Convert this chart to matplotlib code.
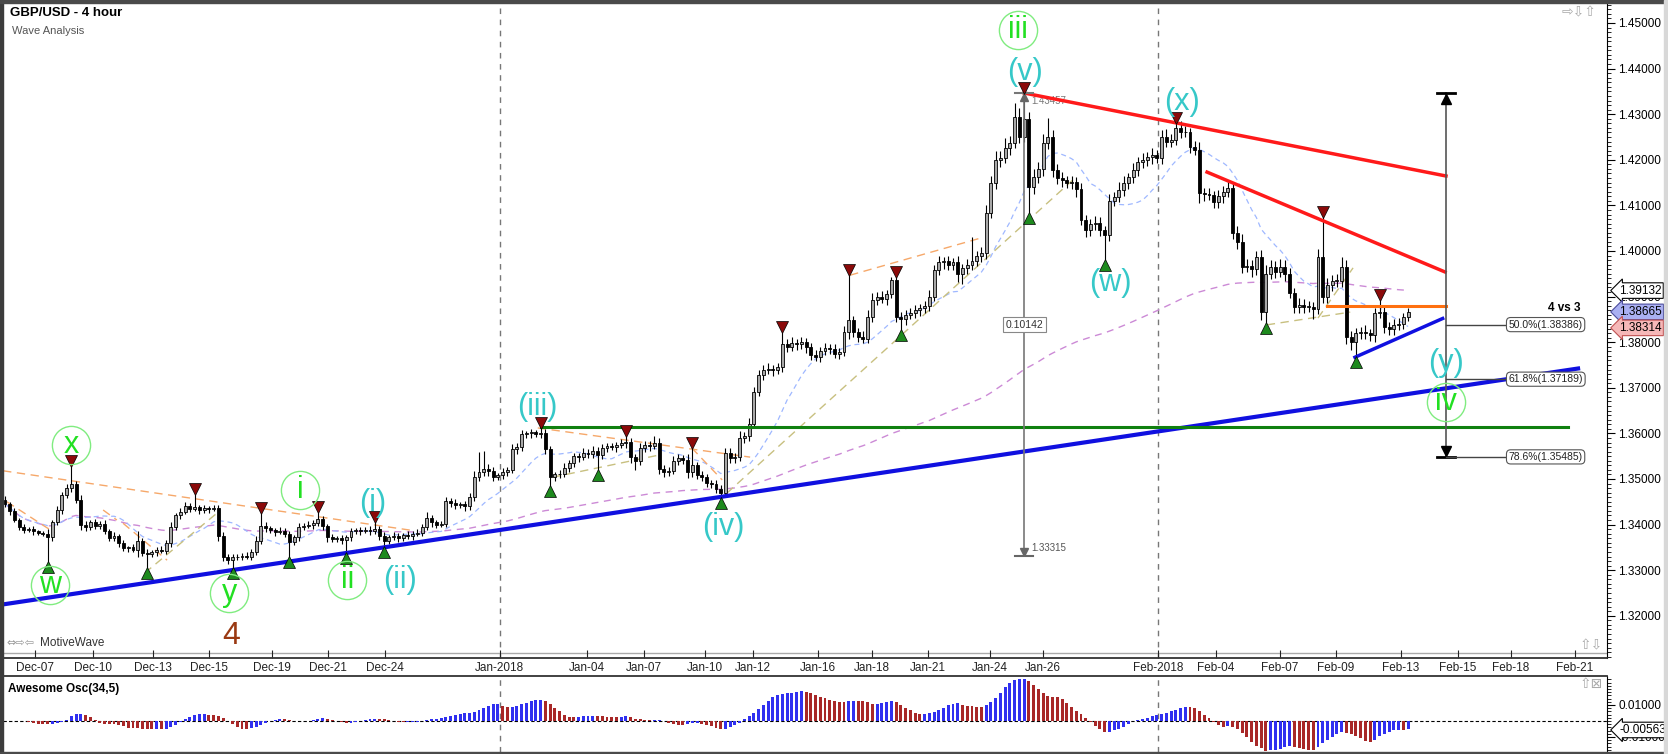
import numpy as np
import pandas as pd
import matplotlib
matplotlib.use('Agg')
from matplotlib import pyplot as plt
from matplotlib import transforms
from matplotlib.patches import Rectangle
from matplotlib.ticker import FormatStrFormatter

plt.rcParams['font.family'] = ['Liberation Sans', 'DejaVu Sans']

W, H = 1668, 754

# 4h closes, pips above 1.3000
close_pips = [
    445, 430, 410, 395, 388, 390, 385, 382, 380, 372, 405, 432, 465, 480, 490, 455, 400, 395, 405, 398,
    402, 385, 370, 375, 360, 348, 350, 345, 365, 338, 335, 340, 345, 342, 360, 395, 420, 428, 440, 435,
    438, 432, 436, 435, 437, 375, 330, 322, 328, 330, 332, 330, 340, 365, 398, 392, 388, 384, 386, 380,
    362, 372, 395, 398, 400, 404, 412, 396, 372, 368, 370, 366, 372, 385, 388, 386, 388, 385, 390, 376,
    365, 372, 375, 370, 378, 375, 380, 382, 395, 415, 405, 400, 402, 452, 448, 442, 445, 440, 460, 505,
    515, 522, 518, 505, 508, 515, 520, 565, 570, 598, 600, 602, 598, 600, 565, 505, 510, 512, 525, 535,
    550, 548, 558, 555, 562, 552, 568, 572, 570, 575, 578, 582, 548, 540, 568, 575, 572, 580, 522, 515,
    518, 540, 545, 542, 515, 530, 508, 505, 492, 488, 478, 470, 557, 545, 548, 590, 595, 620, 690, 728,
    740, 742, 738, 745, 795, 790, 798, 795, 800, 790, 772, 768, 780, 788, 785, 775, 778, 822, 848, 822,
    812, 808, 855, 893, 900, 895, 905, 936, 855, 850, 860, 865, 870, 875, 880, 900, 958, 975, 977, 970,
    975, 950, 962, 970, 978, 990, 995, 1083, 1149, 1200, 1205, 1225, 1237, 1294, 1250, 1290, 1140, 1162, 1180, 1237,
    1250, 1178, 1160, 1155, 1150, 1152, 1135, 1068, 1046, 1060, 1062, 1045, 1035, 1110, 1118, 1134, 1150, 1162, 1178, 1195,
    1200, 1206, 1210, 1205, 1250, 1240, 1244, 1270, 1262, 1260, 1228, 1222, 1127, 1124, 1122, 1107, 1120, 1130, 1138, 1039,
    1020, 965, 968, 960, 987, 866, 950, 965, 955, 965, 950, 908, 878, 882, 878, 878, 873, 987, 900, 925,
    935, 935, 965, 811, 800, 820, 823, 820, 815, 864, 867, 834, 828, 838, 840, 855, 866,
]
# wick lengths above / below the body, pips
wick_up = [
    8, 5, 6, 4, 7, 5, 6, 4, 5, 10, 6, 8, 7, 9, 39, 6, 10, 7, 6, 8,
    5, 7, 6, 8, 5, 6, 4, 7, 20, 6, 9, 5, 6, 8, 7, 10, 6, 8, 9, 7,
    30, 6, 8, 5, 7, 6, 9, 5, 7, 6, 5, 8, 6, 9, 27, 7, 6, 5, 8, 6,
    7, 6, 9, 5, 8, 6, 16, 7, 6, 8, 5, 7, 6, 8, 5, 7, 6, 8, 15, 6,
    7, 5, 8, 6, 4, 7, 5, 8, 6, 12, 7, 5, 6, 9, 6, 8, 5, 7, 10, 12,
    45, 40, 10, 8, 6, 9, 7, 12, 8, 10, 6, 8, 5, 12, 9, 7, 6, 8, 10, 7,
    8, 6, 9, 7, 10, 8, 9, 6, 8, 7, 10, 13, 8, 7, 12, 9, 8, 14, 10, 9,
    8, 10, 9, 7, 12, 38, 8, 10, 7, 6, 9, 8, 12, 10, 8, 15, 9, 14, 12, 10,
    9, 12, 8, 10, 27, 11, 14, 9, 12, 10, 8, 11, 9, 10, 8, 12, 9, 14, 99, 10,
    9, 12, 15, 14, 10, 12, 9, 7, 7, 12, 10, 9, 12, 8, 11, 14, 12, 15, 10, 12,
    10, 14, 9, 12, 53, 11, 14, 18, 15, 20, 14, 22, 16, 30, 20, 56, 14, 18, 15, 20,
    42, 15, 12, 14, 10, 13, 11, 15, 12, 10, 14, 12, 10, 16, 12, 18, 14, 10, 15, 12,
    14, 11, 16, 12, 15, 18, 12, 11, 14, 12, 10, 13, 16, 12, 14, 10, 13, 12, 15, 14,
    16, 18, 15, 12, 14, 15, 20, 16, 14, 18, 15, 12, 10, 14, 12, 13, 10, 17, 88, 15,
    12, 14, 22, 15, 13, 12, 11, 14, 10, 12, 25, 14, 11, 13, 12, 10, 8,
]
wick_dn = [
    6, 8, 5, 7, 6, 4, 8, 5, 6, 54, 7, 5, 8, 6, 9, 7, 12, 8, 6, 7,
    8, 6, 7, 5, 9, 6, 8, 5, 15, 7, 30, 6, 8, 5, 7, 9, 6, 8, 5, 7,
    6, 8, 7, 9, 5, 12, 10, 8, 17, 6, 7, 5, 8, 6, 7, 9, 6, 8, 5, 7,
    33, 6, 8, 7, 5, 9, 6, 8, 10, 7, 6, 8, 28, 7, 6, 8, 5, 7, 6, 9,
    15, 7, 6, 8, 5, 7, 9, 6, 8, 7, 10, 8, 6, 7, 9, 8, 6, 10, 7, 8,
    9, 8, 12, 10, 7, 9, 8, 6, 10, 8, 7, 9, 6, 8, 10, 20, 9, 8, 7, 9,
    8, 10, 7, 9, 8, 32, 9, 8, 7, 10, 8, 9, 12, 20, 9, 8, 10, 7, 12, 10,
    9, 8, 10, 9, 12, 10, 8, 9, 10, 8, 9, 12, 8, 10, 9, 8, 10, 12, 9, 8,
    10, 9, 12, 8, 10, 11, 9, 12, 10, 14, 11, 10, 12, 9, 11, 10, 12, 9, 14, 11,
    12, 10, 9, 11, 12, 10, 13, 9, 11, 23, 12, 10, 11, 13, 10, 12, 9, 11, 14, 12,
    11, 18, 22, 13, 12, 10, 14, 12, 11, 13, 15, 12, 14, 11, 13, 12, 57, 14, 12, 16,
    13, 15, 12, 14, 11, 13, 16, 12, 15, 14, 13, 12, 55, 14, 12, 11, 13, 15, 12, 14,
    12, 13, 15, 11, 14, 12, 13, 12, 14, 11, 13, 12, 22, 14, 11, 13, 12, 14, 11, 13,
    15, 14, 12, 16, 13, 18, 24, 12, 14, 13, 15, 12, 14, 13, 15, 12, 23, 12, 14, 13,
    12, 14, 13, 16, 18, 33, 12, 14, 13, 15, 12, 14, 13, 12, 11, 10, 9,
]
open_first = 455

date_ticks = [6.3, 18.6, 31.2, 43.0, 56.3, 68.1, 80.2, 104.4, 122.8, 134.8, 147.7, 157.8, 171.5,
              182.9, 194.7, 207.8, 219.0, 243.2, 255.5, 269.0, 280.8, 294.5, 306.5, 317.7, 331.2]
date_labels = ['Dec-07', 'Dec-10', 'Dec-13', 'Dec-15', 'Dec-19', 'Dec-21', 'Dec-24', 'Jan-2018',
               'Jan-04', 'Jan-07', 'Jan-10', 'Jan-12', 'Jan-16', 'Jan-18', 'Jan-21', 'Jan-24',
               'Jan-26', 'Feb-2018', 'Feb-04', 'Feb-07', 'Feb-09', 'Feb-13', 'Feb-15', 'Feb-18', 'Feb-21']
month_lines = [104.4, 243.2]

peak_bars = [14, 40, 54, 66, 78, 113, 131, 145, 164, 178, 188, 215, 247, 278, 290]
trough_bars = [9, 30, 48, 60, 72, 80, 115, 125, 151, 189, 216, 232, 266, 285]

green_waves = [('w', 9.5, 1.3268), ('x', 13.9, 1.3575), ('y', 47.3, 1.3250), ('i', 62.2, 1.3476),
               ('ii', 72.2, 1.3279), ('iii', 213.7, 1.4485), ('iv', 304.0, 1.3669)]
cyan_waves = [('(i)', 77.6, 1.3447), ('(ii)', 83.3, 1.3279), ('(iii)', 112.4, 1.3658),
              ('(iv)', 151.5, 1.3395), ('(v)', 215.2, 1.4393), ('(w)', 233.1, 1.3930),
              ('(x)', 248.3, 1.4327), ('(y)', 304.0, 1.3754)]

blue_line = ([-1.05, 332.3], [1.3224, 1.3743])
blue_short = ([284.8, 303.3], [1.3767, 1.3852])
red_upper = ([215.0, 304.0], [1.43465, 1.41645])
red_lower = ([253.6, 303.8], [1.4173, 1.3954])
green_level = ([113.0, 329.7], [1.3614, 1.3614])
orange_level = ([278.9, 304.0], [1.3879, 1.3879])

orange_dashed = [([-0.4, 85.4], [1.3518, 1.3388]), ([112.4, 157.2], [1.3612, 1.3548]),
                 ([178.3, 205.7], [1.3947, 1.4028]), ([0.4, 10.5], [1.3450, 1.3382]),
                 ([20.7, 23.6], [1.3432, 1.3410]), ([24.9, 34.2], [1.3403, 1.3322]),
                 ([144.9, 151.3], [1.3568, 1.3498])]
khaki_dashed = [([29.5, 44.7], [1.3294, 1.3425]), ([115.6, 138.2], [1.3504, 1.3553]),
                ([152.3, 225.3], [1.3469, 1.4156]), ([266.2, 283.8], [1.3838, 1.3866]),
                ([277.0, 284.4], [1.3853, 1.3963])]

wave_top, wave_bottom = 1.43457, 1.33315
fib_levels = [('50.0%(1.38386)', 1.38386), ('61.8%(1.37189)', 1.37189), ('78.6%(1.35485)', 1.35485)]
fib_bar = 304.0

price_boxes = [('1.39132', 1.39132, 'white', 'black'),
               ('1.38665', 1.38665, '#aab0f2', '#4a4a9a'),
               ('1.38314', 1.38314, '#f6b8b8', '#c05050')]
ao_last = -0.00563

# ---- series
closes = 1.3 + np.array(close_pips) / 10000
opens = np.r_[1.3 + open_first / 10000, closes[:-1]]
highs = np.maximum(opens, closes) + np.array(wick_up) / 10000
lows = np.minimum(opens, closes) - np.array(wick_dn) / 10000
bars = np.arange(len(closes))
cs = pd.Series(closes)
ma_fast = cs.rolling(14, min_periods=1).mean()
ma_slow = cs.ewm(span=155).mean()
med = pd.Series((highs + lows) / 2)
ao = (med.rolling(5, min_periods=1).mean() - med.rolling(34, min_periods=1).mean()).values
ao_up = np.r_[True, np.diff(ao) > 0]


def fx(px):
    return px / W


def fy(py):
    return 1 - py / H


fig = plt.figure(figsize=(W / 100, H / 100), dpi=100, facecolor='white')

# ---- price panel
ax = fig.add_axes([fx(3), fy(658), fx(1607) - fx(3), fy(3) - fy(658)])
ax.set_xlim(-0.42, 337.97)
ax.set_ylim(1.45 - (658 - 23) / 4560, 1.45 + (23 - 3) / 4560)

ax.plot(bars, ma_slow, color='#cc8ad6', lw=1.0, dashes=(5, 4), zorder=2)
ax.plot(bars, ma_fast, color='#9fb8ff', lw=0.9, dashes=(4, 3), zorder=2)

for xs, ys in orange_dashed:
    ax.plot(xs, ys, color='#f6a86a', lw=1.0, dashes=(6, 4), zorder=2)
for xs, ys in khaki_dashed:
    ax.plot(xs, ys, color='#c8c080', lw=1.0, dashes=(6, 4), zorder=2)

up = closes >= opens
body = np.maximum(np.abs(closes - opens), 0.00008)
ax.vlines(bars, lows, highs, color='black', lw=0.8, zorder=3)
ax.bar(bars[up], body[up], bottom=opens[up], width=0.62, color='#a8a8a8',
       edgecolor='black', lw=0.6, zorder=4)
ax.bar(bars[~up], body[~up], bottom=closes[~up], width=0.62, color='black',
       edgecolor='black', lw=0.6, zorder=4)

ax.plot(peak_bars, highs[peak_bars] + 0.0011, 'v', ms=9, mfc='#8b0a0a', mec='black', mew=0.5, zorder=6)
ax.plot(trough_bars, lows[trough_bars] - 0.0011, '^', ms=9, mfc='#1e8a1e', mec='black', mew=0.5, zorder=6)

ax.plot(*blue_line, color='#1010e0', lw=3, zorder=5, solid_capstyle='butt')
ax.plot(*blue_short, color='#1010e0', lw=2.5, zorder=5)
ax.plot(*red_upper, color='#ff1a1a', lw=2.5, zorder=5)
ax.plot(*red_lower, color='#ff1a1a', lw=2.5, zorder=5)
ax.plot(*green_level, color='#108010', lw=2.2, zorder=5)
ax.plot(*orange_level, color='#ff7010', lw=2.2, zorder=5)

for b in month_lines:
    ax.axvline(b, color='#777777', lw=1, dashes=(4, 4), zorder=1)

# measured move from the (v) top
ax.plot([215, 215], [wave_top, wave_bottom], color='#777777', lw=1.2, zorder=5)
ax.plot([213.1, 216.9], [wave_top] * 2, color='#777777', lw=1.5, zorder=5)
ax.plot([213.1, 216.9], [wave_bottom] * 2, color='#666666', lw=1.5, zorder=5)
ax.plot([215], [wave_top - 0.0009], '^', ms=6, color='#666666', zorder=5)
ax.plot([215], [wave_bottom + 0.0009], 'v', ms=6, color='#666666', zorder=5)
ax.text(216.6, wave_top - 0.0017, '1.43457', fontsize=7, color='#777777', va='center', zorder=4)
ax.text(216.6, wave_bottom + 0.0018, '1.33315', fontsize=7, color='#555555', va='center', zorder=6)
ax.text(215, 1.3838, '%.5f' % (wave_top - wave_bottom), fontsize=7.5, color='#333333', ha='center',
        va='center', zorder=7, bbox=dict(boxstyle='square,pad=0.25', fc='white', ec='#888888', lw=0.8))

# fib retracement measure
ax.plot([fib_bar, fib_bar], [wave_top, fib_levels[-1][1]], color='#555555', lw=1.2, zorder=5)
ax.plot([fib_bar - 1.9, fib_bar + 1.9], [wave_top] * 2, color='black', lw=2, zorder=5)
ax.plot([fib_bar - 1.9, fib_bar + 1.9], [fib_levels[-1][1]] * 2, color='black', lw=2, zorder=5)
ax.plot([fib_bar], [wave_top - 0.0013], '^', ms=7, color='black', zorder=5)
ax.plot([fib_bar], [fib_levels[-1][1] + 0.0013], 'v', ms=7, color='black', zorder=5)
for txt, lev in fib_levels:
    ax.plot([fib_bar, 316.8], [lev, lev], color='#444444', lw=1, zorder=5)
    ax.text(317.2, lev, txt, fontsize=7.5, color='#222222', va='center', ha='left', zorder=7,
            bbox=dict(boxstyle='round,pad=0.2,rounding_size=0.4', fc='white', ec='#555555', lw=0.8))
ax.text(332.3, 1.3875, '4 vs 3', fontsize=8.5, weight='bold', ha='right', va='center', zorder=7)

# wave labels
for txt, b, p in green_waves:
    ax.plot([b], [p], 'o', ms=27.5, mfc='none', mec='#80ec80', mew=1.0, zorder=8)
    ax.text(b, p, txt, fontsize=22, color='#22e022', ha='center', va='center', zorder=8)
for txt, b, p in cyan_waves:
    ax.text(b, p, txt, fontsize=22, color='#36c8c8', ha='center', va='center', zorder=8)
ax.text(47.7, 1.3156, '4', fontsize=23, color='#9a3912', ha='center', va='center', zorder=8)

# axes styling
for s in ['left', 'top']:
    ax.spines[s].set_visible(False)
ax.spines['right'].set_linewidth(0.8)
ax.spines['bottom'].set_color('#333333')
ax.spines['bottom'].set_linewidth(1.3)
ax.axhline(1.45 - 630 / 4560, color='#aaaaaa', lw=1, zorder=1)
ax.yaxis.tick_right()
ax.set_yticks(np.round(np.arange(1.32, 1.4501, 0.01), 2))
ax.set_yticks(np.round(np.arange(1.311, 1.4541, 0.001), 3), minor=True)
ax.yaxis.set_major_formatter(FormatStrFormatter('%.5f'))
ax.tick_params(axis='y', which='major', length=6, width=0.8, labelsize=8.5, pad=2)
ax.tick_params(axis='y', which='minor', length=3, width=0.6)
ax.set_xticks(date_ticks)
ax.set_xticklabels(date_labels)
ax.tick_params(axis='x', direction='in', length=6, width=0.8, labelsize=8.5, pad=3, colors='#222222')

tr = transforms.blended_transform_factory(ax.transAxes, ax.transData)
for txt, p, fc, ec in price_boxes:
    ax.text(1 + 12 / 1604, p, txt, transform=tr, fontsize=8.5, va='center', ha='left', zorder=10,
            clip_on=False, bbox=dict(boxstyle='larrow,pad=0.15', fc=fc, ec=ec, lw=0.8))

# ---- oscillator panel
axo = fig.add_axes([fx(3), fy(752), fx(1607) - fx(3), fy(676) - fy(752)])
axo.set_xlim(ax.get_xlim())
axo.set_ylim(-0.0194, 0.0281)
axo.bar(bars, ao, width=0.62, color=np.where(ao_up, '#3030f0', '#a82828'), zorder=3)
axo.axhline(0, color='black', lw=0.8, dashes=(3, 2), zorder=2)
for b in month_lines:
    axo.axvline(b, color='#777777', lw=1, dashes=(4, 4), zorder=1)
for s in ['left', 'bottom']:
    axo.spines[s].set_visible(False)
axo.spines['top'].set_color('#333333')
axo.spines['top'].set_linewidth(1.3)
axo.spines['right'].set_linewidth(0.8)
axo.set_xticks([])
axo.yaxis.tick_right()
axo.set_yticks([0.01, -0.01])
axo.set_yticks(np.round(np.arange(-0.018, 0.028, 0.002), 3), minor=True)
axo.yaxis.set_major_formatter(FormatStrFormatter('%.5f'))
axo.tick_params(axis='y', which='major', length=6, width=0.8, labelsize=8.5, pad=2)
axo.tick_params(axis='y', which='minor', length=3, width=0.6)
tro = transforms.blended_transform_factory(axo.transAxes, axo.transData)
axo.text(1 + 12 / 1604, ao_last, '%.5f' % ao_last, transform=tro, fontsize=8.5, va='center',
         ha='left', zorder=10, clip_on=False,
         bbox=dict(boxstyle='larrow,pad=0.15', fc='white', ec='black', lw=0.8))

# ---- titles and frame decorations
fig.text(fx(10), fy(13), 'GBP/USD - 4 hour', fontsize=9.5, weight='bold', va='center')
fig.text(fx(12), fy(31), 'Wave Analysis', fontsize=8, color='#555555', va='center')
fig.text(fx(8), fy(689), 'Awesome Osc(34,5)', fontsize=8.5, weight='bold', va='center')
fig.text(fx(6), fy(643), '⇔⇨⇦', fontsize=8, color='#999999', va='center', family='DejaVu Sans')
fig.text(fx(40), fy(643), 'MotiveWave', fontsize=8.5, color='#333333', va='center')
fig.text(fx(1562), fy(12), '⇨⇩⇧', fontsize=10, color='#aaaaaa', va='center', family='DejaVu Sans')
fig.text(fx(1580), fy(645), '⇧⇩', fontsize=10, color='#aaaaaa', va='center', family='DejaVu Sans')
fig.text(fx(1580), fy(684), '⇧⊠', fontsize=10, color='#aaaaaa', va='center', family='DejaVu Sans')

fig.add_artist(Rectangle((0, 0), fx(3), 1, transform=fig.transFigure, color='#3c3c3c', zorder=20))
fig.add_artist(Rectangle((0, fy(3)), 1, 3 / H, transform=fig.transFigure, color='#4a4a4a', zorder=20))
fig.add_artist(Rectangle((0, 0), 1, 2 / H, transform=fig.transFigure, color='#4a4a4a', zorder=20))
fig.add_artist(Rectangle((fx(1664), 0), 4 / W, 1, transform=fig.transFigure, color='#d8d8d8', zorder=20))

fig.savefig('out.png', dpi=100, facecolor='white')
